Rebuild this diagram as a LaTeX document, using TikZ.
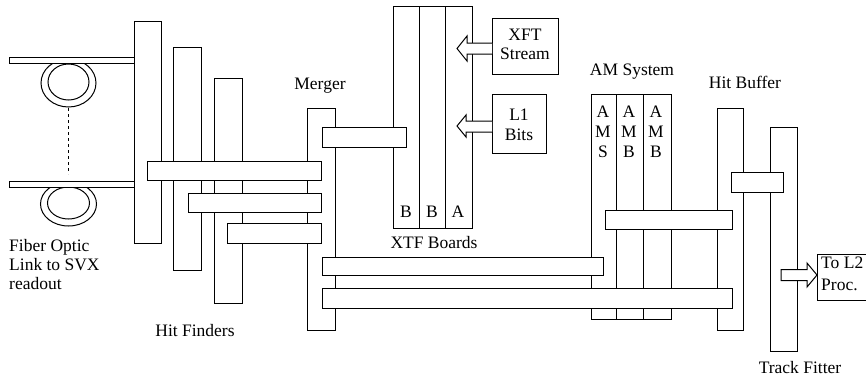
\documentclass[tikz,border=0pt]{standalone}
\usepackage{fontspec}
\setmainfont{Liberation Serif}
\begin{document}
\begin{tikzpicture}[x=1pt,y=-1pt,
  brd/.style={draw=black,fill=white,line width=1pt},
  ring/.style={draw=black,line width=1pt},
  blk/.style={draw=black,fill=white,line width=1pt,line join=miter},
  lbl/.style={inner sep=0pt,anchor=base,font=\fontsize{17.5}{19}\selectfont},
  lblw/.style={lbl,anchor=base west}]
\fill[white] (0,0) rectangle (866,376);
\useasboundingbox (0,0) rectangle (866,376);
\clip (0,0) rectangle (866,376);

% fiber optic loops
\draw[ring] (68.5,83) ellipse [x radius=27.5, y radius=24];
\draw[ring] (68.5,82) ellipse [x radius=20.5, y radius=18];
\draw[ring] (68.5,204) ellipse [x radius=28, y radius=22];
\draw[ring] (68.5,203) ellipse [x radius=21, y radius=16];
\coordinate (dtop) at (68.5,108);
\coordinate (dbot) at (68.5,174);
\draw[line width=1.2pt,dash pattern=on 3pt off 3pt] (dtop) -- (dbot);
\draw[brd] (9,57) rectangle (134,63);
\draw[brd] (9,181) rectangle (134,187);

% hit finders
\draw[brd] (134,21) rectangle (161,243);
\draw[brd] (173,47) rectangle (201,270);
\draw[brd] (214,78) rectangle (242,303);
% merger
\draw[brd] (307,108) rectangle (335,330);
% XTF boards
\draw[brd] (393,6) rectangle (419,228);
\draw[brd] (419,6) rectangle (445,228);
\draw[brd] (445,6) rectangle (472,228);
% AM boards
\draw[brd] (591,94) rectangle (616,319);
\draw[brd] (616,94) rectangle (643,319);
\draw[brd] (643,94) rectangle (671,319);
% hit buffer, track fitter
\draw[brd] (717,108) rectangle (743,330);
\draw[brd] (770,127) rectangle (797,351);

% connecting bars
\draw[brd] (147,161) rectangle (321,180);
\draw[brd] (188,193) rectangle (321,212);
\draw[brd] (227,223) rectangle (321,243);
\draw[brd] (322,127) rectangle (406,147);
\draw[brd] (322,257) rectangle (603,275);
\draw[brd] (322,288) rectangle (732,308);
\draw[brd] (605,210) rectangle (732,229);
\draw[brd] (731,172) rectangle (783,192);

% input boxes and arrows
\draw[brd] (492,18) rectangle (558,74);
\draw[brd] (492,94) rectangle (546,153);
\draw[blk] (492,43) -- (467,43) -- (467,36) -- (457,48.5) -- (467,61) -- (467,54) -- (492,54);
\draw[blk] (492,121) -- (466,121) -- (466,115) -- (457,126) -- (466,137) -- (466,132) -- (492,132);
% output box and arrow
\draw[line width=1pt] (870,254) -- (817,254) -- (817,300) -- (870,300);
\draw[blk] (781,269.5) -- (807,269.5) -- (807,263) -- (817,275) -- (807,287) -- (807,280.5) -- (781,280.5) -- cycle;

% labels
\node[lblw] (fo1) at (9,251) {Fiber Optic};
\node[lblw] (fo2) at (9,270) {Link to SVX};
\node[lblw] (fo3) at (9,289) {readout};
\node[lbl] (hf) at (195,336) {Hit Finders};
\node[lbl] (mg) at (320,89) {Merger};
\node[lbl] (xtf) at (434,248) {XTF Boards};
\node[lbl] (am) at (632,75) {AM System};
\node[lbl] (hb) at (745,88) {Hit Buffer};
\node[lbl] (tf) at (800,373) {Track Fitter};
\node[lbl] (x1) at (525,40) {XFT};
\node[lbl] (x2) at (525,59) {Stream};
\node[lbl] (l1) at (519,120) {L1};
\node[lbl] (l2) at (519,140) {Bits};
\node[lbl] (bb1) at (406,217) {B};
\node[lbl] (bb2) at (432,217) {B};
\node[lbl] (ba) at (458,217) {A};
\node[lbl] (a1) at (603,117) {A};
\node[lbl] (a2) at (603,137) {M};
\node[lbl] (a3) at (603,157) {S};
\node[lbl] (b1) at (629,117) {A};
\node[lbl] (b2) at (629,137) {M};
\node[lbl] (b3) at (629,157) {B};
\node[lbl] (c1) at (656,117) {A};
\node[lbl] (c2) at (656,137) {M};
\node[lbl] (c3) at (656,157) {B};
\node[lblw] (t1) at (821,268) {To L2};
\node[lblw] (t2) at (821,290) {Proc.};
\end{tikzpicture}
\end{document}
